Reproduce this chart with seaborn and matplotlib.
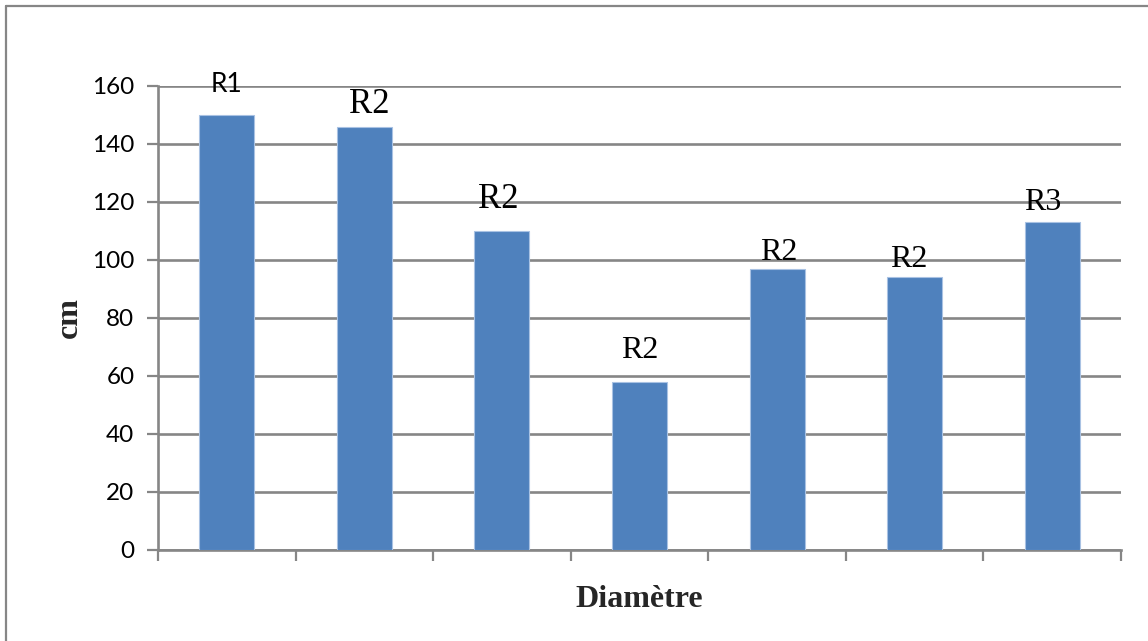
import matplotlib
matplotlib.use("Agg")
import matplotlib.pyplot as plt
import seaborn as sns
import pandas as pd
from matplotlib.lines import Line2D
from matplotlib.ticker import FixedLocator, NullLocator

# data
diametres = ["d1", "d2", "d3", "d4", "d5", "d6", "d7"]
hauteurs = [150, 146, 110, 58, 97, 94, 113]
etiquettes = ["R1", "R2", "R2", "R2", "R2", "R2", "R3"]

# label placement / style (not data)
dx = [0.0, 0.036, -0.025, 0.0, 0.015, -0.04, -0.07]
dy = [8.1, 4.6, 7.8, 8.1, 2.9, 3.7, 4.4]
fam = ["Lato", "Liberation Serif", "Liberation Serif", "Liberation Serif",
       "Liberation Serif", "Liberation Serif", "Liberation Serif"]
taille = [19, 25, 25, 23, 23, 23, 23]

sns.set_theme(style="white")
plt.rcParams["font.family"] = ["Lato", "DejaVu Sans"]

df = pd.DataFrame({"diam": diametres, "h": hauteurs})

fig = plt.figure(figsize=(11.48, 6.41), dpi=100)
ax = fig.add_axes([158 / 1148, 1 - 550 / 641, (1121 - 158) / 1148, (550 - 86) / 641])

gris = "#868686"
sns.barplot(data=df, x="diam", y="h", color="#4F81BD", saturation=1,
            width=0.40, edgecolor="#A9C2E3", linewidth=0.8, ax=ax, zorder=3)

ax.set_xlim(-0.5, 6.5)
ax.set_ylim(0, 160)
ax.set_yticks(range(0, 161, 20))
ax.tick_params(axis="y", labelsize=17.5, colors=gris, labelcolor="black",
               length=8, width=1.6, direction="out", left=True, pad=9)
ax.yaxis.grid(True, color=gris, linewidth=1.9, zorder=0)
ax.set_axisbelow(True)

# x ticks at category boundaries, no labels
ax.xaxis.set_major_locator(NullLocator())
ax.xaxis.set_minor_locator(FixedLocator([i - 0.5 for i in range(len(diametres) + 1)]))
ax.tick_params(axis="x", which="minor", bottom=True, length=8, width=1.6,
               color=gris, direction="out")

for s in ["top", "right"]:
    ax.spines[s].set_visible(False)
for s in ["left", "bottom"]:
    ax.spines[s].set_color(gris)
    ax.spines[s].set_linewidth(1.9)

for i, (h, lab) in enumerate(zip(hauteurs, etiquettes)):
    ax.text(i + dx[i], h + dy[i], lab, ha="center", va="baseline",
            fontsize=taille[i], family=fam[i], color="black", zorder=5)

ax.set_xlabel("Diamètre", family="Liberation Serif", fontweight="bold",
              fontsize=23, labelpad=14)
ax.set_ylabel("cm", family="Liberation Serif", fontweight="bold",
              fontsize=23, labelpad=6)

# chart frame (only top and left edges visible)
fig.add_artist(Line2D([6 / 1148, 1.0], [1 - 6 / 641] * 2, color=gris, lw=1.6,
                      transform=fig.transFigure))
fig.add_artist(Line2D([6 / 1148] * 2, [0.0, 1 - 6 / 641], color=gris, lw=1.6,
                      transform=fig.transFigure))

fig.savefig("out.png", dpi=100, facecolor="white")
